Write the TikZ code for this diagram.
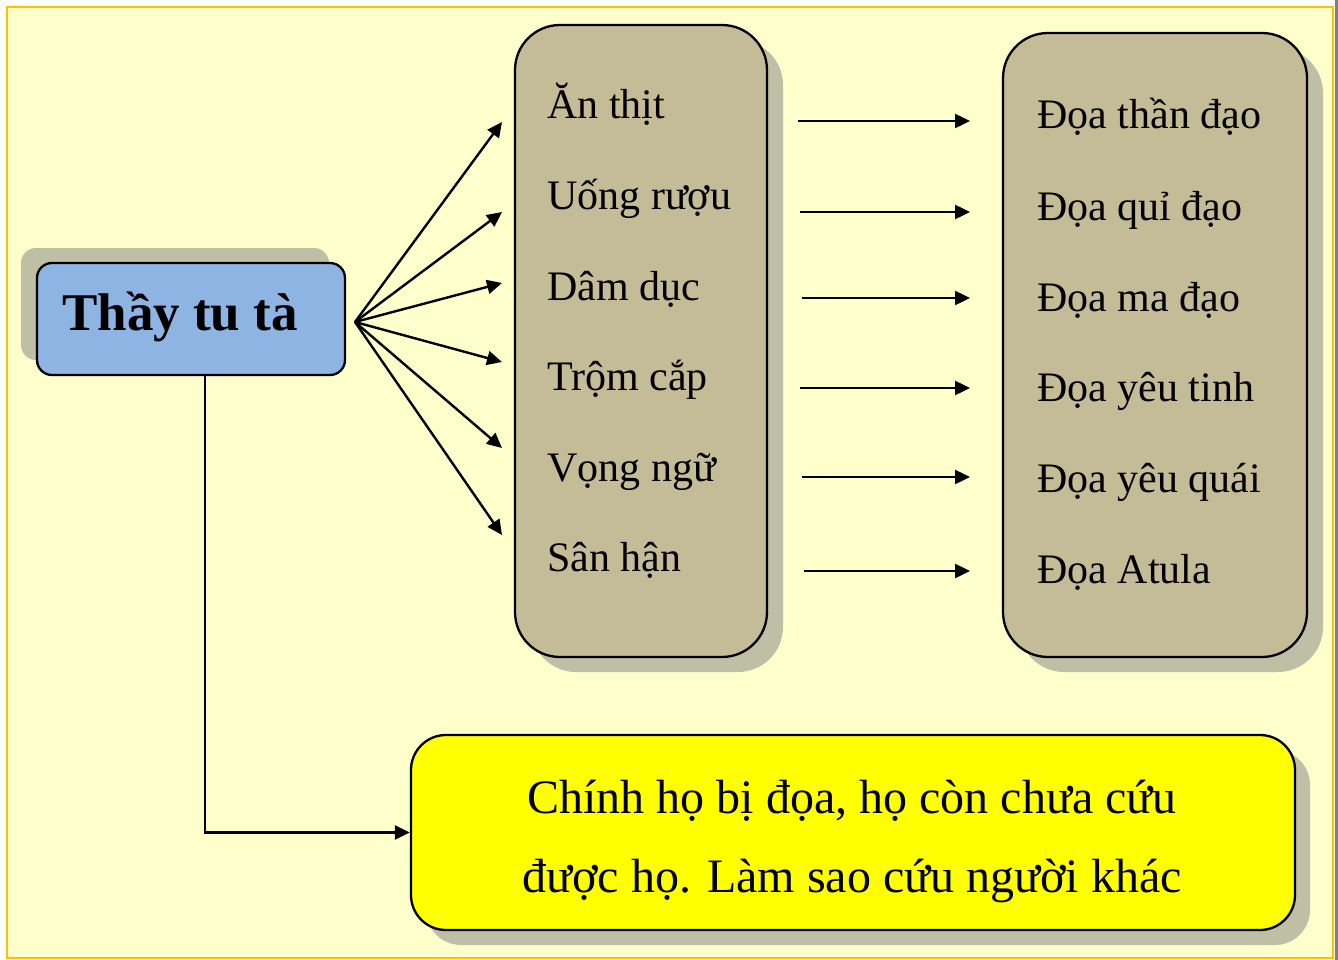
\documentclass[tikz,border=0pt]{standalone}
\usepackage{fontspec}
\setmainfont{Liberation Serif}
\usetikzlibrary{arrows.meta}
\definecolor{bgc}{HTML}{FFFFCC}
\definecolor{framec}{HTML}{FFC000}
\definecolor{shadowc}{HTML}{BFBFA5}
\definecolor{tanc}{HTML}{C4BC96}
\definecolor{bluec}{HTML}{8EB4E3}
\definecolor{yelc}{HTML}{FFFF00}
\definecolor{edgegray}{HTML}{808080}
\begin{document}
\begin{tikzpicture}[x=1pt,y=-1pt,
 box/.style={draw=black,line width=2.3pt,inner sep=0pt},
 item/.style={anchor=base west,inner sep=0pt,font=\fontsize{42}{50}\selectfont},
 concltext/.style={anchor=base,inner sep=0pt,font=\fontsize{48}{56}\selectfont},
 arr/.style={line width=2.4pt,-{Triangle[length=15pt,width=14pt]}},
 ]
\useasboundingbox (0,0) rectangle (1338,960);
\fill[white] (0,0) rectangle (1338,960);
\fill[edgegray] (1335,0) rectangle (1338,960);
\fill[bgc] (7,7) rectangle (1333,958);
\draw[framec,line width=2.5pt] (7,7) rectangle (1333,958);
% shadows
\fill[shadowc,rounded corners=15pt] (21,248) rectangle (329,360);
\fill[shadowc,rounded corners=45pt] (531,40) rectangle (783,672);
\fill[shadowc,rounded corners=45pt] (1019,48) rectangle (1323,672);
\fill[shadowc,rounded corners=35pt] (426,750) rectangle (1310,945);
% boxes
\node[box,fill=bluec,rounded corners=15pt,minimum width=308pt,minimum height=112pt] (master) at (191,319) {};
\node[box,fill=tanc,rounded corners=45pt,minimum width=252pt,minimum height=632pt] (sins) at (641,341) {};
\node[box,fill=tanc,rounded corners=45pt,minimum width=304pt,minimum height=624pt] (fates) at (1155,345) {};
\node[box,fill=yelc,rounded corners=35pt,minimum width=884pt,minimum height=195pt] (concl) at (853,832.5) {};
% texts
\node[anchor=base,inner sep=0pt,font=\fontsize{53}{60}\selectfont\bfseries] (mastert) at (180,330) {Thầy tu tà};
\node[item] (s1) at (547,119) {Ăn thịt};
\node[item] (s2) at (547,209.5) {Uống rượu};
\node[item] (s3) at (547,300) {Dâm dục};
\node[item] (s4) at (547,390.5) {Trộm cắp};
\node[item] (s5) at (547,481) {Vọng ngữ};
\node[item] (s6) at (547,571.5) {Sân hận};
\node[item] (f1) at (1037,129) {Đọa thần đạo};
\node[item] (f2) at (1037,220) {Đọa quỉ đạo};
\node[item] (f3) at (1037,311) {Đọa ma đạo};
\node[item] (f4) at (1037,401) {Đọa yêu tinh};
\node[item] (f5) at (1037,492) {Đọa yêu quái};
\node[item] (f6) at (1037,583) {Đọa Atula};
\node[concltext] (c1) at (852,813) {Chính họ bị đọa, họ còn chưa cứu};
\node[concltext] (c2) at (852,892) {được họ. Làm sao cứu người khác};
% fan arrows
\coordinate (hub) at (355,322);
\coordinate (t1) at (502,122);
\coordinate (t2) at (502,212);
\coordinate (t3) at (502,283);
\coordinate (t4) at (502,362);
\coordinate (t5) at (502,448);
\coordinate (t6) at (502,535);
\foreach \i in {1,...,6} {\draw[arr] (hub) -- (t\i);}
% right arrows
\coordinate (a1) at (798,121); \coordinate (b1) at (970,121);
\coordinate (a2) at (800,212); \coordinate (b2) at (970,212);
\coordinate (a3) at (802,298); \coordinate (b3) at (970,298);
\coordinate (a4) at (800,388); \coordinate (b4) at (970,388);
\coordinate (a5) at (802,477); \coordinate (b5) at (970,477);
\coordinate (a6) at (804,571); \coordinate (b6) at (970,571);
\foreach \i in {1,...,6} {\draw[arr] (a\i) -- (b\i);}
% down connector
\draw[arr] ([xshift=14pt]master.south) |- (concl.west);
\end{tikzpicture}
\end{document}
